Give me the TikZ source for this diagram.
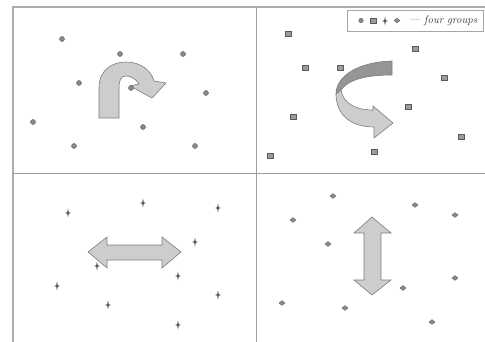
\documentclass[tikz,border=0pt]{standalone}
\usetikzlibrary{shapes.geometric}
\definecolor{mk}{HTML}{8A8A8A}
\definecolor{mkd}{HTML}{5A5A5A}
\definecolor{arf}{HTML}{CDCDCD}
\definecolor{ard}{HTML}{959595}
\definecolor{arl}{HTML}{7C7C7C}
\tikzset{
  framel/.style={draw=gray!65, line width=1.4pt},
  divl/.style={draw=gray!75, line width=0.7pt},
  dotm/.style={circle, fill=mk, draw=mkd, line width=0.4pt, inner sep=0pt, minimum size=5pt},
  sqm/.style={rectangle, fill=mk!85, draw=mkd, line width=0.6pt, inner sep=0pt, minimum width=6pt, minimum height=5pt},
  dmm/.style={diamond, fill=mk, draw=mkd, line width=0.3pt, inner sep=0pt, minimum width=6pt, minimum height=5pt},
  plusm/.pic={\fill[mkd] (0,-4.5) -- (0.8,-0.8) -- (2.8,0) -- (0.8,0.8) -- (0,4.5) -- (-0.8,0.8) -- (-2.8,0) -- (-0.8,-0.8) -- cycle;},
  bigarrow/.style={fill=arf, draw=arl, line width=0.6pt, line join=miter},
  darkband/.style={fill=ard, draw=arl, line width=0.6pt},
  legbox/.style={draw=gray!70, line width=0.7pt, fill=white, inner sep=0pt, minimum width=136pt, minimum height=21pt},
  legtext/.style={font=\fontsize{11}{13}\selectfont\itshape, text=black!80, inner sep=0pt}
}
\begin{document}
\begin{tikzpicture}[x=1pt,y=-1pt]
\useasboundingbox (0,0) rectangle (485,342);
% frame and dividers
\draw[framel] (13,342) -- (13,7) -- (485,7);
\draw[divl] (13,173) -- (485,173);
\draw[divl] (256,7) -- (256,342);

% top-left: circles
\foreach \i/\x/\y in {1/62/39, 2/120/54, 3/183/54, 4/79/83, 5/206/93, 6/33/122, 7/143/127, 8/74/146, 9/195/146}
  \node[dotm] (c\i) at (\x,\y) {};

% U-turn arrow
\draw[bigarrow] (99,118) -- (99,88) .. controls (99,70) and (112,62) .. (126,62)
  .. controls (140,62) and (151,70) .. (154,81) -- (166,83) -- (152,98) -- (130,86) -- (139,84)
  .. controls (136,79) and (131,76) .. (126,76) .. controls (121,76) and (119,80) .. (119,88)
  -- (119,118) -- cycle;
\node[dotm] (c10) at (131,88) {};

% top-right: squares
\foreach \i/\x/\y in {1/288/34, 2/305/68, 3/340/68, 4/415/49, 5/444/78, 6/293/117, 7/408/107, 8/461/137, 9/270/156, 10/374/152}
  \node[sqm] (s\i) at (\x,\y) {};

% curved ribbon arrow
\draw[bigarrow] (341,90) .. controls (343,103) and (355,110) .. (373,110) -- (373,106) -- (393,123)
  -- (374,138) -- (374,127) .. controls (348,127) and (336,112) .. (336,94) -- cycle;
\draw[darkband] (392,61) .. controls (358,62) and (336,76) .. (336,94) -- (341,90)
  .. controls (348,80) and (365,75) .. (392,75) -- cycle;

% legend
\node[legbox, anchor=north west] (leg) at (347,10) {};
\node[dotm, minimum size=4.5pt] (l1) at (361,20.5) {};
\node[sqm] (l2) at (373,20.5) {};
\pic at (385,21) {plusm};
\node[dmm] (l4) at (397,20.5) {};
\node[legtext, anchor=west] (ld) at (409,20.5) {---};
\node[legtext, anchor=west] (lt) at (424,21) {four groups};

% bottom-left: plus markers
\foreach \x/\y in {68/213, 143/203, 218/208, 195/242, 57/286, 178/276, 218/295, 108/305, 178/325}
  \pic at (\x,\y) {plusm};

% horizontal double arrow
\draw[bigarrow] (88,252) -- (107,237) -- (107,245) -- (162,245) -- (162,237) -- (181,252)
  -- (162,268) -- (162,260) -- (107,260) -- (107,268) -- cycle;
\pic at (97,266) {plusm};

% bottom-right: diamonds
\foreach \i/\x/\y in {1/333/196, 2/293/220, 3/415/205, 4/455/215, 5/328/244, 6/455/278, 7/403/288, 8/282/303, 9/345/308, 10/432/322}
  \node[dmm] (d\i) at (\x,\y) {};

% vertical double arrow
\draw[bigarrow] (372,217) -- (391,233) -- (381,233) -- (381,280) -- (391,280) -- (372,295)
  -- (354,280) -- (364,280) -- (364,233) -- (354,233) -- cycle;
\end{tikzpicture}
\end{document}
